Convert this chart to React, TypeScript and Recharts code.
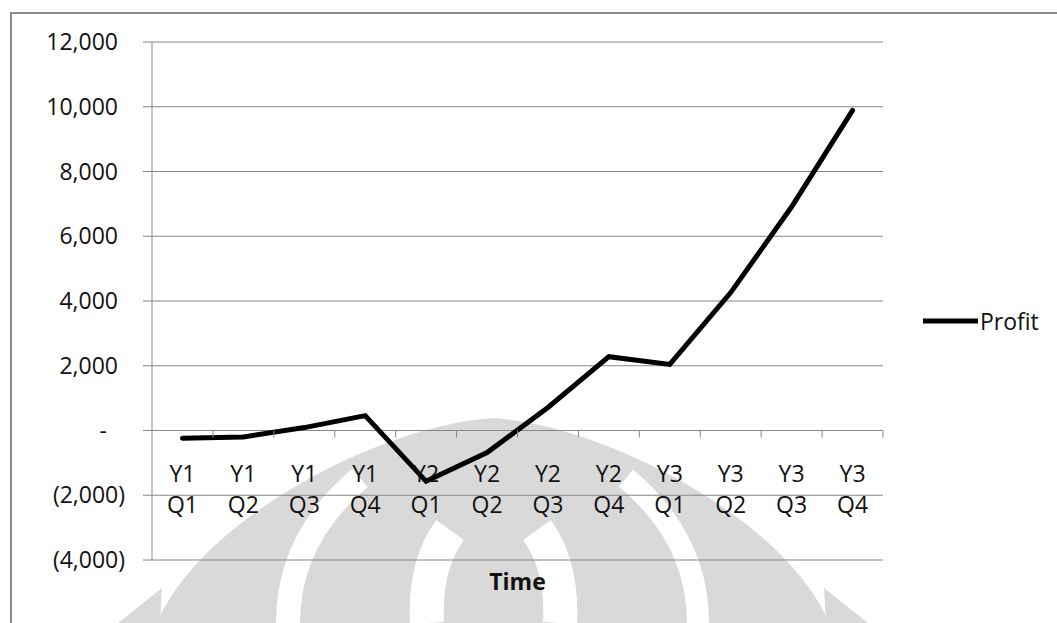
import React from "react";
import {
  LineChart,
  Line,
  XAxis,
  YAxis,
  CartesianGrid,
  Legend,
} from "recharts";

const categories = [
  "Y1 Q1", "Y1 Q2", "Y1 Q3", "Y1 Q4",
  "Y2 Q1", "Y2 Q2", "Y2 Q3", "Y2 Q4",
  "Y3 Q1", "Y3 Q2", "Y3 Q3", "Y3 Q4",
];
const profit = [-240, -200, 90, 460, -1570, -680, 710, 2280, 2040, 4260, 6910, 9890];
const yTicks = [-4000, -2000, 0, 2000, 4000, 6000, 8000, 10000, 12000];

const data = categories.map((c, i) => ({ period: c, Profit: profit[i] }));

const FONT = "'Open Sans', 'Noto Sans', sans-serif";
const GRID = "#878787";
const TEXT = "#111";

// plot geometry
const W = 1057;
const H = 623;
const PLOT_TOP = 42;
const PLOT_BOTTOM = 560;
const PLOT_LEFT = 152;
const PLOT_RIGHT = 883;
const Y_MIN = -4000;
const Y_MAX = 12000;
const zeroY = PLOT_TOP + ((Y_MAX - 0) / (Y_MAX - Y_MIN)) * (PLOT_BOTTOM - PLOT_TOP);
const band = (PLOT_RIGHT - PLOT_LEFT) / categories.length;

const fmt = (v: number) => {
  if (v === 0) return "-";
  const s = Math.abs(v).toLocaleString("en-US");
  return v < 0 ? `(${s})` : s;
};

const YTick = (props: any) => {
  const { x, y, payload } = props;
  const v = payload.value;
  const shift = v === 0 ? 34 : v < 0 ? 16 : 23;
  return (
    <text
      x={x - shift}
      y={y + 8}
      textAnchor="end"
      fontFamily={FONT}
      fontSize={23}
      fill={TEXT}
    >
      {fmt(v)}
    </text>
  );
};

const XTick = (props: any) => {
  const { x, payload } = props;
  const [a, b] = String(payload.value).split(" ");
  return (
    <g>
      <line
        x1={x + band / 2}
        x2={x + band / 2}
        y1={zeroY}
        y2={zeroY + 7}
        stroke={GRID}
        strokeWidth={1}
      />
      <text x={x} y={zeroY + 51} textAnchor="middle" fontFamily={FONT} fontSize={23} fill={TEXT}>
        {a}
      </text>
      <text x={x} y={zeroY + 82} textAnchor="middle" fontFamily={FONT} fontSize={23} fill={TEXT}>
        {b}
      </text>
    </g>
  );
};

const LegendContent = () => (
  <div style={{ display: "flex", alignItems: "center" }}>
    <svg width={60} height={30}>
      <line x1={3} x2={58} y1={15} y2={15} stroke="#000" strokeWidth={5} />
    </svg>
    <span style={{ fontFamily: FONT, fontSize: 23, color: TEXT, lineHeight: "30px" }}>
      Profit
    </span>
  </div>
);

// faint background logo of the source page, rough shapes only
const Watermark = () => (
  <svg
    width={W}
    height={H}
    style={{ position: "absolute", left: 0, top: 0 }}
  >
    <g fill="#d9d9d9">
      <path d="M157 623 C200 520 380 425 493 418 C606 425 786 520 829 623 Z" />
      <path d="M118 623 L162 588 L160 623 Z" />
      <path d="M868 623 L824 588 L826 623 Z" />
    </g>
    <g fill="none" stroke="#fff">
      <path strokeWidth={24} d="M288 623 C288 570 310 520 360 478" />
      <path strokeWidth={22} d="M698 623 C698 570 676 520 626 478" />
      <path strokeWidth={34} d="M427 623 C425 585 432 555 450 530" />
      <path strokeWidth={34} d="M560 623 C562 585 555 555 537 530" />
    </g>
  </svg>
);

export default function App() {
  return (
    <div
      style={{
        position: "fixed",
        left: 0,
        top: 0,
        width: W,
        height: H,
        overflow: "hidden",
        background: "#fff",
      }}
    >
      <Watermark />
      <div
        style={{
          position: "absolute",
          left: 10,
          top: 12,
          width: 1200,
          height: 800,
          border: "2px solid #8a8a8a",
        }}
      />
      <div style={{ position: "absolute", left: 0, top: 0 }}>
        <LineChart
          width={W}
          height={H}
          data={data}
          margin={{ top: PLOT_TOP, right: W - PLOT_RIGHT, bottom: H - PLOT_BOTTOM - 30, left: 12 }}
        >
          <CartesianGrid vertical={false} stroke={GRID} strokeWidth={1} />
          <XAxis
            dataKey="period"
            height={30}
            axisLine={false}
            tickLine={false}
            interval={0}
            padding={{ left: band / 2, right: band / 2 }}
            tick={<XTick />}
            label={{
              value: "Time",
              position: "bottom",
              offset: -16,
              fontFamily: FONT,
              fontSize: 23,
              fontWeight: "bold",
              fill: TEXT,
            }}
          />
          <YAxis
            width={140}
            domain={[Y_MIN, Y_MAX]}
            ticks={yTicks}
            interval={0}
            axisLine={{ stroke: GRID }}
            tickLine={{ stroke: GRID }}
            tickSize={9}
            tick={<YTick />}
          />
          <Legend
            layout="horizontal"
            verticalAlign="middle"
            wrapperStyle={{ left: 920, top: 306, width: 137 }}
            content={<LegendContent />}
          />
          <Line
            type="linear"
            dataKey="Profit"
            stroke="#000"
            strokeWidth={5}
            strokeLinecap="round"
            dot={false}
            activeDot={false}
            isAnimationActive={false}
          />
        </LineChart>
      </div>
    </div>
  );
}
